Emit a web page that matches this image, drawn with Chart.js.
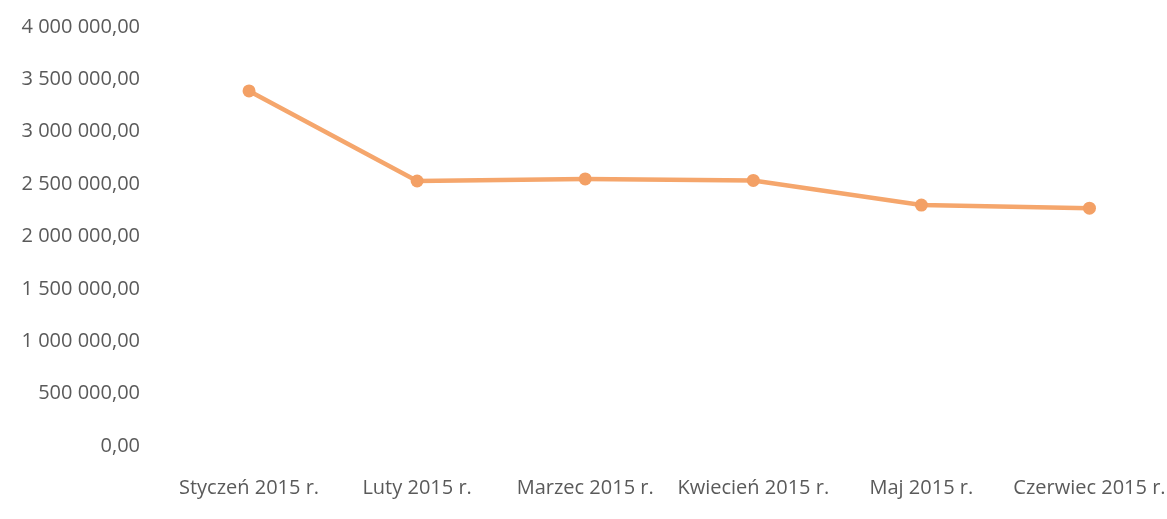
<!DOCTYPE html>
<html>
<head>
<meta charset="utf-8">
<script src="https://cdn.jsdelivr.net/npm/chart.js@4/dist/chart.umd.min.js"></script>
<style>
  html, body { margin: 0; padding: 0; background: #ffffff; overflow: hidden; width: 1167px; height: 519px; }
  #wrap { position: absolute; left: 0; top: 0; width: 1180px; height: 519px; }
</style>
</head>
<body>
<div id="wrap"><canvas id="c"></canvas></div>
<script>
const categories = ['Styczeń 2015 r.', 'Luty 2015 r.', 'Marzec 2015 r.', 'Kwiecień 2015 r.', 'Maj 2015 r.', 'Czerwiec 2015 r.'];
const values = [3390000, 2530000, 2550000, 2535000, 2300000, 2270000];
const yMin = 0;
const yMax = 4000000;
const yStep = 500000;

function formatPL(v) {
  const parts = Number(v).toFixed(2).split('.');
  const intPart = parts[0].replace(/\B(?=(\d{3})+(?!\d))/g, ' ');
  return intPart + ',' + parts[1];
}

const textColor = '#5a5a5a';
const font = { family: '"Open Sans", sans-serif', size: 20 };

new Chart(document.getElementById('c'), {
  type: 'line',
  data: {
    labels: categories,
    datasets: [{
      data: values,
      borderColor: '#F5A66C',
      backgroundColor: '#F3A065',
      borderWidth: 4.5,
      pointRadius: 6.5,
      pointHoverRadius: 6.5,
      pointBackgroundColor: '#F3A065',
      pointBorderColor: '#F3A065',
      pointBorderWidth: 0,
      tension: 0,
      fill: false
    }]
  },
  options: {
    responsive: true,
    maintainAspectRatio: false,
    animation: false,
    layout: { padding: { top: 27, bottom: 19, left: 0, right: 0 } },
    plugins: { legend: { display: false }, tooltip: { enabled: false } },
    scales: {
      x: {
        type: 'category',
        offset: true,
        border: { display: false },
        grid: { display: true, drawOnChartArea: false, drawTicks: true, tickLength: 30, color: 'rgba(0,0,0,0)' },
        ticks: { color: textColor, font: font, padding: 0, autoSkip: false, maxRotation: 0, minRotation: 0 }
      },
      y: {
        min: yMin,
        max: yMax,
        border: { display: false },
        grid: { display: true, drawOnChartArea: false, drawTicks: true, tickLength: 25, color: 'rgba(0,0,0,0)' },
        ticks: {
          stepSize: yStep,
          color: textColor,
          font: font,
          padding: 0,
          callback: (v) => formatPL(v)
        },
        afterFit: (scale) => { scale.width = 165; }
      }
    }
  }
});
</script>
</body>
</html>
